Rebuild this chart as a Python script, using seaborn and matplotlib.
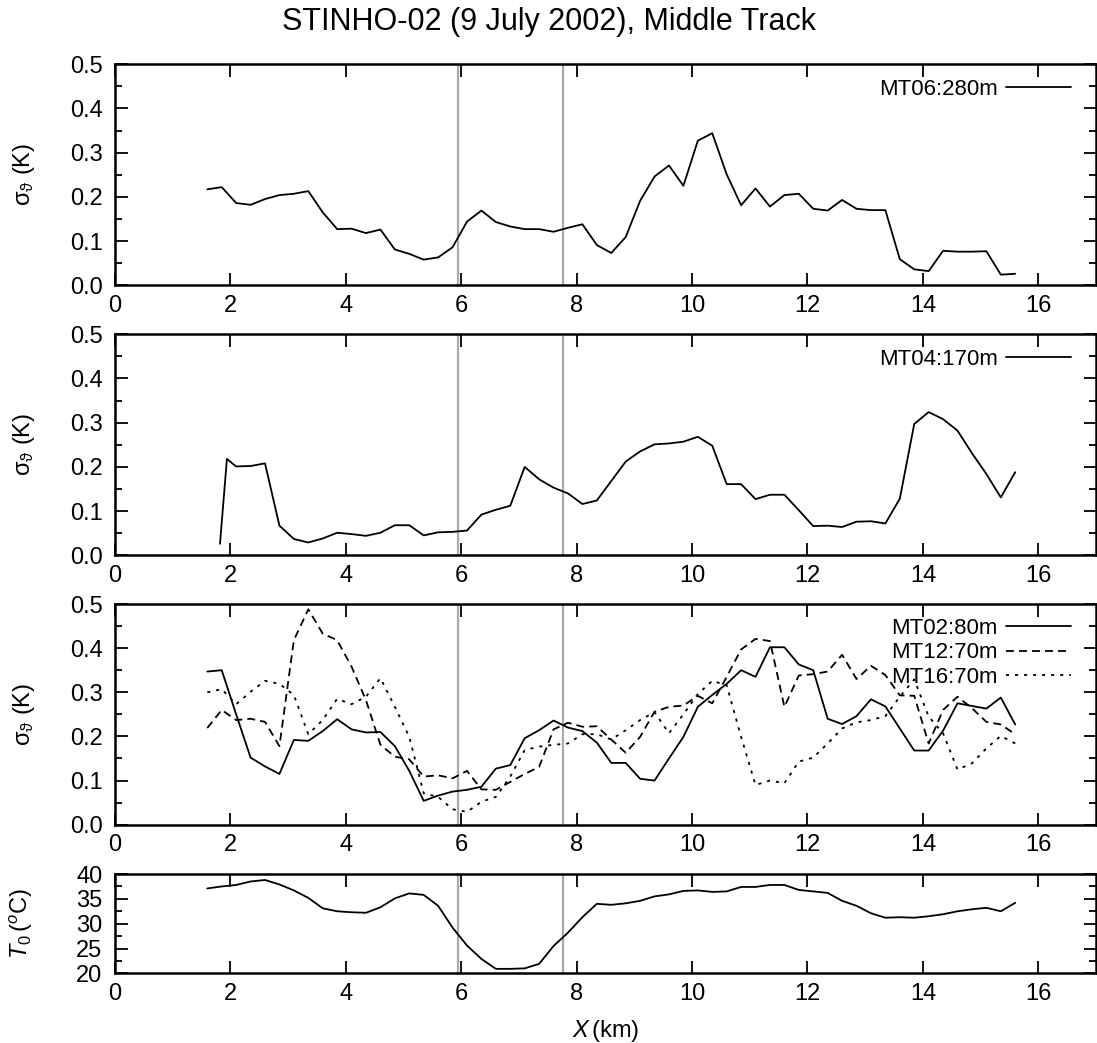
import matplotlib
matplotlib.use("Agg")
import matplotlib.pyplot as plt
from matplotlib.ticker import MultipleLocator, FormatStrFormatter
import seaborn as sns

# Along-track position of each sample (km)
x_km = [1.60, 1.85, 2.10, 2.35, 2.60, 2.85, 3.10, 3.35, 3.60, 3.85,
        4.10, 4.35, 4.60, 4.85, 5.10, 5.35, 5.60, 5.85, 6.10, 6.35,
        6.60, 6.85, 7.10, 7.35, 7.60, 7.85, 8.10, 8.35, 8.60, 8.85,
        9.10, 9.35, 9.60, 9.85, 10.10, 10.35, 10.60, 10.85, 11.10, 11.35,
        11.60, 11.85, 12.10, 12.35, 12.60, 12.85, 13.10, 13.35, 13.60, 13.85,
        14.10, 14.35, 14.60, 14.85, 15.10, 15.35, 15.60]

# MT06 at 280 m
mt06 = [0.217, 0.222, 0.186, 0.182, 0.195, 0.204, 0.207, 0.213, 0.165, 0.127,
        0.128, 0.118, 0.126, 0.081, 0.071, 0.058, 0.063, 0.086, 0.144, 0.169,
        0.143, 0.133, 0.127, 0.127, 0.121, 0.130, 0.138, 0.091, 0.073, 0.109,
        0.191, 0.246, 0.271, 0.225, 0.327, 0.344, 0.251, 0.181, 0.219, 0.178,
        0.204, 0.207, 0.173, 0.169, 0.193, 0.173, 0.170, 0.170, 0.059, 0.036,
        0.032, 0.078, 0.076, 0.076, 0.077, 0.024, 0.026]

# MT04 at 170 m (first two samples off the regular spacing)
x_mt04 = [1.82, 1.94] + x_km[2:]
mt04 = [0.026, 0.218, 0.201, 0.202, 0.208, 0.067, 0.037, 0.029, 0.038, 0.051,
        0.048, 0.044, 0.051, 0.068, 0.068, 0.045, 0.052, 0.053, 0.056, 0.092,
        0.103, 0.112, 0.200, 0.172, 0.153, 0.140, 0.116, 0.124, 0.168, 0.212,
        0.235, 0.251, 0.253, 0.257, 0.268, 0.248, 0.161, 0.161, 0.127, 0.137,
        0.137, 0.102, 0.066, 0.067, 0.064, 0.076, 0.077, 0.072, 0.128, 0.297,
        0.324, 0.308, 0.282, 0.231, 0.184, 0.131, 0.188]

# MT02 at 80 m
mt02 = [0.347, 0.350, 0.250, 0.152, 0.132, 0.115, 0.192, 0.190, 0.212, 0.239,
        0.216, 0.209, 0.210, 0.178, 0.122, 0.054, 0.066, 0.075, 0.079, 0.086,
        0.127, 0.135, 0.196, 0.214, 0.236, 0.220, 0.212, 0.186, 0.140, 0.140,
        0.104, 0.100, 0.150, 0.199, 0.267, 0.294, 0.319, 0.350, 0.335, 0.402,
        0.402, 0.363, 0.350, 0.240, 0.228, 0.246, 0.284, 0.268, 0.218, 0.168,
        0.168, 0.213, 0.275, 0.269, 0.263, 0.288, 0.227]

# MT12 at 70 m
mt12 = [0.219, 0.260, 0.237, 0.240, 0.233, 0.178, 0.418, 0.488, 0.433, 0.418,
        0.358, 0.282, 0.181, 0.154, 0.148, 0.109, 0.112, 0.105, 0.122, 0.080,
        0.079, 0.097, 0.115, 0.131, 0.216, 0.231, 0.222, 0.223, 0.193, 0.163,
        0.199, 0.256, 0.267, 0.270, 0.292, 0.275, 0.335, 0.397, 0.421, 0.416,
        0.267, 0.338, 0.341, 0.347, 0.385, 0.330, 0.360, 0.339, 0.293, 0.292,
        0.184, 0.260, 0.290, 0.264, 0.233, 0.227, 0.205]

# MT16 at 70 m
mt16 = [0.300, 0.307, 0.273, 0.301, 0.326, 0.319, 0.294, 0.205, 0.237, 0.285,
        0.273, 0.290, 0.332, 0.267, 0.199, 0.071, 0.063, 0.035, 0.029, 0.052,
        0.063, 0.109, 0.169, 0.177, 0.181, 0.184, 0.205, 0.205, 0.193, 0.214,
        0.237, 0.255, 0.207, 0.250, 0.296, 0.326, 0.316, 0.199, 0.090, 0.100,
        0.094, 0.143, 0.152, 0.184, 0.218, 0.232, 0.237, 0.246, 0.290, 0.329,
        0.245, 0.207, 0.125, 0.139, 0.173, 0.201, 0.184]

# Surface temperature T0 (deg C)
t0 = [37.1, 37.5, 37.8, 38.5, 38.8, 37.9, 36.7, 35.2, 33.1, 32.5,
      32.3, 32.2, 33.3, 35.1, 36.1, 35.8, 33.6, 29.2, 25.6, 22.9,
      20.9, 20.9, 21.0, 21.9, 25.5, 28.2, 31.3, 34.0, 33.8, 34.1,
      34.6, 35.5, 35.9, 36.6, 36.7, 36.4, 36.5, 37.4, 37.4, 37.8,
      37.8, 36.8, 36.5, 36.2, 34.6, 33.6, 32.1, 31.2, 31.3, 31.2,
      31.5, 31.9, 32.5, 32.9, 33.2, 32.5, 34.2]

# Edges of the irrigated strip (km)
strip_edges = [5.94, 7.77]

sns.set_style("ticks")
plt.rcParams["font.family"] = ["Liberation Sans", "DejaVu Sans"]
plt.rcParams["mathtext.fontset"] = "custom"
plt.rcParams["mathtext.rm"] = "Liberation Sans"
plt.rcParams["mathtext.it"] = "Liberation Sans:italic"
plt.rcParams["mathtext.fallback"] = "stixsans"
for key in ("text.color", "axes.labelcolor", "xtick.color", "ytick.color",
            "axes.edgecolor"):
    plt.rcParams[key] = "black"

FS = 17
LEG_FS = 16
LW = 1.3
DASHED = (0, (4.4, 2.8))
DOTTED = (0, (1.7, 3.3))

fig = plt.figure(figsize=(10.97, 10.43), dpi=100)
left, width = 0.1048, 0.8943
ax1 = fig.add_axes([left, 0.7265, width, 0.2119])
ax2 = fig.add_axes([left, 0.4676, width, 0.2119])
ax3 = fig.add_axes([left, 0.2093, width, 0.2116])
ax4 = fig.add_axes([left, 0.0668, width, 0.0952])


def style_axis(ax, ymin, ymax, ymajor, yminor, fmt):
    for e in strip_edges:
        ax.axvline(e, color="#ababab", lw=1.6, zorder=1)
    ax.set_xlim(0, 17)
    ax.set_ylim(ymin, ymax)
    ax.xaxis.set_major_locator(MultipleLocator(2))
    ax.yaxis.set_major_locator(MultipleLocator(ymajor))
    ax.yaxis.set_minor_locator(MultipleLocator(yminor))
    ax.yaxis.set_major_formatter(FormatStrFormatter(fmt))
    ax.tick_params(which="both", direction="in", top=True, right=True,
                   labelsize=FS, width=1.3, colors="black")
    ax.tick_params(which="major", length=9)
    ax.tick_params(which="minor", length=5)
    ax.tick_params(axis="x", pad=7)
    ax.tick_params(axis="y", pad=9)
    for s in ax.spines.values():
        s.set_linewidth(1.8)
        s.set_color("black")
    ax.set_xlabel("")


def gp_legend(ax, top):
    ax.legend(loc="upper right", markerfirst=False, frameon=False,
              fontsize=LEG_FS, handlelength=2.95, handletextpad=0.35,
              labelspacing=0.16, borderaxespad=0.5,
              bbox_to_anchor=(0.995, top))


sig_label = r"$\mathrm{\sigma}_{\mathrm{\vartheta}}$ (K)"

sns.lineplot(x=x_km, y=mt06, ax=ax1, color="black", lw=LW,
             estimator=None, sort=False, label="MT06:280m")
style_axis(ax1, 0, 0.5, 0.1, 0.05, "%.1f")
gp_legend(ax1, 1.025)

sns.lineplot(x=x_mt04, y=mt04, ax=ax2, color="black", lw=LW,
             estimator=None, sort=False, label="MT04:170m")
style_axis(ax2, 0, 0.5, 0.1, 0.05, "%.1f")
gp_legend(ax2, 1.025)

sns.lineplot(x=x_km, y=mt02, ax=ax3, color="black", lw=LW,
             estimator=None, sort=False, label="MT02:80m")
sns.lineplot(x=x_km, y=mt12, ax=ax3, color="black", lw=LW, linestyle=DASHED,
             estimator=None, sort=False, label="MT12:70m")
sns.lineplot(x=x_km, y=mt16, ax=ax3, color="black", lw=LW, linestyle=DOTTED,
             estimator=None, sort=False, label="MT16:70m")
style_axis(ax3, 0, 0.5, 0.1, 0.05, "%.1f")
gp_legend(ax3, 1.028)

sns.lineplot(x=x_km, y=t0, ax=ax4, color="black", lw=LW,
             estimator=None, sort=False)
style_axis(ax4, 20, 40, 5, 2.5, "%d")

for ax in (ax1, ax2, ax3):
    ax.set_ylabel(sig_label, fontsize=FS)
    ax.yaxis.set_label_coords(-0.079, 0.5)
ax4.set_ylabel(r"$T_0\,(^{o}$C)", fontsize=FS)
ax4.yaxis.set_label_coords(-0.082, 0.5)

ax4.set_xlabel(r"$X\,$(km)", fontsize=FS)
ax4.xaxis.set_label_coords(0.5, -0.45)

fig.suptitle("STINHO-02 (9 July 2002), Middle Track", fontsize=22, y=0.993)

fig.savefig("out.png", dpi=100)
